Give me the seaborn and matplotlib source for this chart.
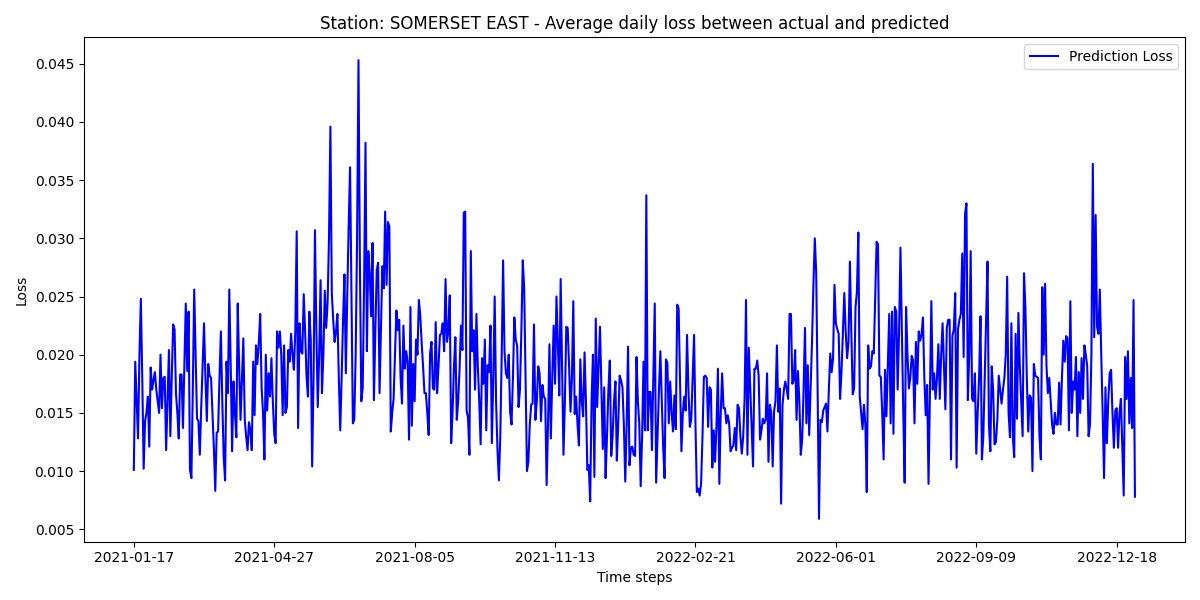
import matplotlib
matplotlib.use('Agg')
import matplotlib.pyplot as plt
import numpy as np
import pandas as pd
import seaborn as sns

station = 'SOMERSET EAST'
start_date = '2021-01-17'

# average daily loss, one value per day
loss = [
    # 2021-01-17 ..
    0.0101, 0.0194, 0.0160, 0.0128, 0.0200, 0.0248, 0.0180, 0.0102, 0.0143, 0.0150,
    0.0164, 0.0121, 0.0189, 0.0170, 0.0178, 0.0185, 0.0170, 0.0160, 0.0150, 0.0200,
    0.0154, 0.0180, 0.0181, 0.0118, 0.0160, 0.0204, 0.0130, 0.0180, 0.0226, 0.0222,
    0.0167, 0.0150, 0.0128, 0.0183, 0.0183, 0.0137, 0.0190, 0.0244, 0.0186, 0.0237,
    0.0101, 0.0094, 0.0170, 0.0256, 0.0200, 0.0145, 0.0143, 0.0114, 0.0155, 0.0190,
    0.0227, 0.0180, 0.0143, 0.0192, 0.0182, 0.0180, 0.0150, 0.0120, 0.0083, 0.0133,
    # ..
    0.0134, 0.0180, 0.0220, 0.0160, 0.0112, 0.0092, 0.0194, 0.0167, 0.0256, 0.0190,
    0.0117, 0.0177, 0.0150, 0.0129, 0.0244, 0.0190, 0.0144, 0.0180, 0.0214, 0.0144,
    0.0130, 0.0118, 0.0142, 0.0135, 0.0118, 0.0194, 0.0148, 0.0208, 0.0192, 0.0210,
    0.0235, 0.0172, 0.0150, 0.0110, 0.0200, 0.0152, 0.0184, 0.0164, 0.0197, 0.0160,
    0.0132, 0.0124, 0.0220, 0.0206, 0.0220, 0.0200, 0.0148, 0.0208, 0.0150, 0.0155,
    0.0204, 0.0194, 0.0218, 0.0200, 0.0187, 0.0220, 0.0306, 0.0137, 0.0227, 0.0203,
    # ..
    0.0201, 0.0252, 0.0220, 0.0181, 0.0164, 0.0237, 0.0213, 0.0104, 0.0180, 0.0307,
    0.0220, 0.0155, 0.0200, 0.0264, 0.0167, 0.0200, 0.0255, 0.0223, 0.0245, 0.0300,
    0.0396, 0.0253, 0.0230, 0.0211, 0.0220, 0.0235, 0.0180, 0.0135, 0.0180, 0.0230,
    0.0269, 0.0184, 0.0250, 0.0310, 0.0361, 0.0250, 0.0141, 0.0144, 0.0200, 0.0300,
    0.0453, 0.0280, 0.0160, 0.0171, 0.0260, 0.0382, 0.0203, 0.0289, 0.0270, 0.0233,
    0.0296, 0.0161, 0.0220, 0.0273, 0.0279, 0.0167, 0.0220, 0.0276, 0.0257, 0.0323,
    # ..
    0.0260, 0.0314, 0.0310, 0.0134, 0.0150, 0.0162, 0.0200, 0.0238, 0.0221, 0.0230,
    0.0180, 0.0158, 0.0225, 0.0188, 0.0203, 0.0194, 0.0127, 0.0241, 0.0139, 0.0192,
    0.0160, 0.0213, 0.0200, 0.0247, 0.0234, 0.0210, 0.0190, 0.0167, 0.0167, 0.0150,
    0.0131, 0.0201, 0.0211, 0.0171, 0.0170, 0.0228, 0.0167, 0.0190, 0.0217, 0.0218,
    0.0227, 0.0203, 0.0265, 0.0211, 0.0220, 0.0251, 0.0124, 0.0150, 0.0190, 0.0215,
    0.0144, 0.0160, 0.0188, 0.0225, 0.0204, 0.0322, 0.0323, 0.0152, 0.0146, 0.0114,
    # ..
    0.0289, 0.0203, 0.0221, 0.0170, 0.0235, 0.0190, 0.0160, 0.0123, 0.0197, 0.0175,
    0.0213, 0.0135, 0.0191, 0.0185, 0.0225, 0.0124, 0.0180, 0.0250, 0.0160, 0.0118,
    0.0092, 0.0130, 0.0200, 0.0281, 0.0203, 0.0184, 0.0180, 0.0200, 0.0151, 0.0140,
    0.0180, 0.0232, 0.0213, 0.0208, 0.0155, 0.0170, 0.0220, 0.0281, 0.0258, 0.0180,
    0.0100, 0.0108, 0.0140, 0.0157, 0.0158, 0.0226, 0.0144, 0.0160, 0.0190, 0.0184,
    0.0143, 0.0174, 0.0164, 0.0162, 0.0088, 0.0140, 0.0209, 0.0128, 0.0180, 0.0225,
    # ..
    0.0175, 0.0250, 0.0210, 0.0165, 0.0265, 0.0190, 0.0114, 0.0160, 0.0224, 0.0223,
    0.0190, 0.0151, 0.0180, 0.0246, 0.0149, 0.0164, 0.0140, 0.0122, 0.0196, 0.0160,
    0.0147, 0.0202, 0.0160, 0.0101, 0.0105, 0.0074, 0.0160, 0.0200, 0.0095, 0.0231,
    0.0155, 0.0190, 0.0224, 0.0170, 0.0119, 0.0172, 0.0094, 0.0130, 0.0170, 0.0195,
    0.0113, 0.0130, 0.0160, 0.0177, 0.0109, 0.0140, 0.0182, 0.0178, 0.0172, 0.0140,
    0.0091, 0.0140, 0.0207, 0.0105, 0.0120, 0.0121, 0.0114, 0.0113, 0.0198, 0.0160,
    # ..
    0.0140, 0.0087, 0.0130, 0.0194, 0.0135, 0.0337, 0.0135, 0.0168, 0.0168, 0.0118,
    0.0180, 0.0244, 0.0090, 0.0130, 0.0170, 0.0203, 0.0160, 0.0120, 0.0094, 0.0196,
    0.0193, 0.0141, 0.0177, 0.0150, 0.0134, 0.0165, 0.0136, 0.0243, 0.0240, 0.0180,
    0.0117, 0.0150, 0.0164, 0.0152, 0.0217, 0.0170, 0.0138, 0.0144, 0.0180, 0.0217,
    0.0140, 0.0082, 0.0085, 0.0079, 0.0089, 0.0130, 0.0181, 0.0182, 0.0180, 0.0138,
    0.0172, 0.0170, 0.0103, 0.0135, 0.0108, 0.0140, 0.0188, 0.0089, 0.0150, 0.0184,
    # ..
    0.0154, 0.0154, 0.0141, 0.0148, 0.0141, 0.0117, 0.0120, 0.0122, 0.0137, 0.0118,
    0.0157, 0.0154, 0.0130, 0.0115, 0.0130, 0.0162, 0.0247, 0.0114, 0.0206, 0.0172,
    0.0140, 0.0104, 0.0188, 0.0188, 0.0195, 0.0182, 0.0127, 0.0135, 0.0145, 0.0141,
    0.0144, 0.0184, 0.0108, 0.0157, 0.0150, 0.0104, 0.0152, 0.0160, 0.0208, 0.0151,
    0.0171, 0.0072, 0.0157, 0.0170, 0.0177, 0.0170, 0.0162, 0.0235, 0.0235, 0.0175,
    0.0178, 0.0204, 0.0144, 0.0186, 0.0160, 0.0114, 0.0127, 0.0170, 0.0223, 0.0141,
    # ..
    0.0191, 0.0131, 0.0170, 0.0211, 0.0260, 0.0300, 0.0270, 0.0170, 0.0059, 0.0144,
    0.0142, 0.0152, 0.0155, 0.0158, 0.0134, 0.0170, 0.0201, 0.0185, 0.0197, 0.0260,
    0.0227, 0.0222, 0.0218, 0.0162, 0.0185, 0.0220, 0.0253, 0.0220, 0.0197, 0.0211,
    0.0280, 0.0220, 0.0166, 0.0171, 0.0241, 0.0254, 0.0305, 0.0164, 0.0150, 0.0136,
    0.0157, 0.0140, 0.0082, 0.0208, 0.0188, 0.0190, 0.0203, 0.0201, 0.0250, 0.0297,
    0.0295, 0.0182, 0.0181, 0.0150, 0.0110, 0.0187, 0.0147, 0.0190, 0.0235, 0.0141,
    # ..
    0.0237, 0.0132, 0.0241, 0.0237, 0.0170, 0.0220, 0.0292, 0.0220, 0.0150, 0.0090,
    0.0241, 0.0200, 0.0171, 0.0180, 0.0199, 0.0195, 0.0141, 0.0211, 0.0175, 0.0220,
    0.0212, 0.0217, 0.0232, 0.0180, 0.0148, 0.0174, 0.0089, 0.0170, 0.0246, 0.0170,
    0.0184, 0.0162, 0.0180, 0.0209, 0.0162, 0.0200, 0.0227, 0.0190, 0.0153, 0.0223,
    0.0230, 0.0230, 0.0110, 0.0216, 0.0222, 0.0253, 0.0103, 0.0222, 0.0230, 0.0235,
    0.0287, 0.0198, 0.0321, 0.0330, 0.0161, 0.0200, 0.0289, 0.0162, 0.0160, 0.0184,
    # ..
    0.0115, 0.0150, 0.0181, 0.0233, 0.0110, 0.0130, 0.0182, 0.0230, 0.0280, 0.0140,
    0.0117, 0.0190, 0.0170, 0.0123, 0.0125, 0.0144, 0.0182, 0.0170, 0.0158, 0.0170,
    0.0180, 0.0200, 0.0267, 0.0150, 0.0129, 0.0227, 0.0130, 0.0112, 0.0218, 0.0145,
    0.0236, 0.0190, 0.0161, 0.0130, 0.0270, 0.0240, 0.0180, 0.0134, 0.0165, 0.0163,
    0.0100, 0.0192, 0.0182, 0.0181, 0.0180, 0.0130, 0.0110, 0.0258, 0.0200, 0.0261,
    0.0190, 0.0167, 0.0180, 0.0160, 0.0140, 0.0132, 0.0150, 0.0140, 0.0140, 0.0176,
    # .. 2022-12-31
    0.0140, 0.0180, 0.0212, 0.0194, 0.0216, 0.0214, 0.0135, 0.0246, 0.0150, 0.0177,
    0.0170, 0.0198, 0.0130, 0.0185, 0.0150, 0.0197, 0.0162, 0.0208, 0.0200, 0.0190,
    0.0130, 0.0140, 0.0200, 0.0364, 0.0215, 0.0320, 0.0224, 0.0218, 0.0256, 0.0200,
    0.0150, 0.0094, 0.0172, 0.0124, 0.0160, 0.0184, 0.0187, 0.0150, 0.0120, 0.0152,
    0.0154, 0.0120, 0.0150, 0.0162, 0.0120, 0.0079, 0.0198, 0.0162, 0.0203, 0.0141,
    0.0180, 0.0137, 0.0247, 0.0078,
]

dates = pd.date_range(start_date, periods=len(loss)).strftime('%Y-%m-%d')
df = pd.DataFrame({'step': np.arange(len(loss)), 'loss': loss})

fig, ax = plt.subplots(figsize=(12, 6), dpi=100)
sns.lineplot(data=df, x='step', y='loss', color='blue', linewidth=1.5,
             label='Prediction Loss', ax=ax)

tick_pos = np.arange(0, len(loss), 100)
ax.set_xticks(tick_pos)
ax.set_xticklabels(dates[tick_pos])

ax.set_title(f'Station: {station} - Average daily loss between actual and predicted')
ax.set_xlabel('Time steps')
ax.set_ylabel('Loss')
ax.legend(loc='upper right')

plt.tight_layout()
plt.savefig('out.png')
